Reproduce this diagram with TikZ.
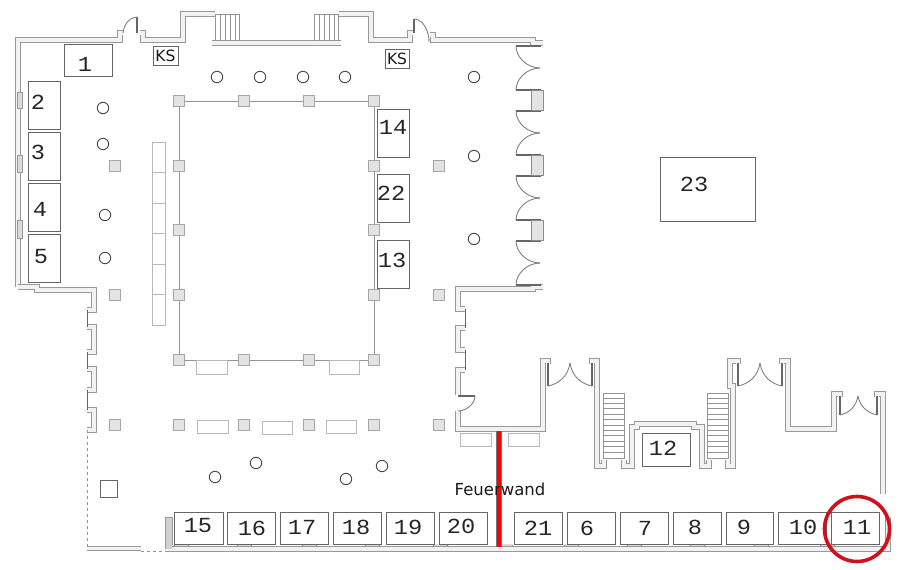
\documentclass[tikz,border=0pt]{standalone}
\usepackage{fontspec}
\setsansfont{DejaVu Sans}
\newfontfamily\numfont[FakeStretch=1.1]{Liberation Mono}
\definecolor{wallgray}{gray}{0.6}
\definecolor{wallfill}{gray}{0.95}
\definecolor{pillargray}{gray}{0.89}
\definecolor{circlered}{RGB}{208,16,28}
\tikzset{
	wall/.style={draw=wallgray,line width=1.1pt,double=wallfill,double distance=3.4pt,miter limit=4},
	leaf/.style={draw=black!60,line width=1.5pt},
	thinline/.style={draw=black!42,line width=1pt},
	swing/.style={draw=black!50,line width=0.9pt},
	booth/.style={draw=black!60,line width=1pt},
	table/.style={draw=black!28,line width=1pt},
	pillar/.style={draw=black!35,fill=pillargray,line width=0.9pt},
	column/.style={draw=black!72,line width=0.9pt},
	num/.style={font=\numfont\fontsize{21.5}{21.5}\selectfont,text=black!85,inner sep=0pt},
	ks/.style={font=\sffamily\fontsize{15.5}{16}\selectfont,text=black!90,inner sep=0pt},
}
\begin{document}
\begin{tikzpicture}[x=1pt,y=-1pt]
	\useasboundingbox (0,0) rectangle (900,570);

	\draw [wall] (18,287)--(18,40)--(120,40)--(120,33)--(123,33);
	\draw [wall] (140,33)--(143,33)--(143,40)--(183,40)--(183,14)--(215,14);
	\draw [wall] (212,43)--(341,43);
	\draw [wall] (339,14)--(371,14)--(371,40)--(410,40)--(410,33)--(413,33);
	\draw [wall] (430,35)--(433,35)--(433,40)--(533,40)--(533,43)--(543,43);
	\draw [wall] (18,287)--(37,287)--(37,290)--(94,290)--(94,310)--(87,310);
	\draw [wall] (87,327)--(94,327)--(94,352)--(87,352);
	\draw [wall] (87,369)--(94,369)--(94,390)--(87,390);
	\draw [wall] (87,410)--(94,410)--(94,430)--(87,430);
	\draw [wall] (543,287)--(533,287)--(533,289)--(458,289)--(458,309)--(465,309);
	\draw [wall] (465,328)--(458,328)--(458,350)--(465,350);
	\draw [wall] (465,370)--(458,370)--(458,395);
	\draw [wall] (458,411)--(458,429)--(543,429)--(543,361)--(548,361)--(548,364);
	\draw [wall] (592,364)--(592,361)--(597,361)--(597,466)--(604,466)--(604,460);
	\draw [wall] (624,460)--(624,466)--(632,466)--(632,427)--(637,427)--(637,424)--(694,424)--(694,427)--(702,427)--(702,466)--(709,466)--(709,460);
	\draw [wall] (728,460)--(728,466)--(733,466)--(733,386)--(730,386)--(730,361)--(738,361)--(738,364);
	\draw [wall] (782,364)--(782,361)--(788,361)--(788,429)--(834,429)--(834,394)--(840,394)--(840,397);
	\draw [wall] (877,397)--(877,394)--(883,394)--(883,494);
	\draw [wall] (165,549)--(888,549)--(888,517);
	\draw [wall] (87,548.5)--(141,548.5);

	\fill [wallgray!45] (165,517) rectangle (172,549);
	\draw [draw=wallgray,line width=0.9pt] (165,549)--(165,517)--(172,517)--(172,545);
	\foreach \ya/\yb in {92/108,155/172,220/238}{
		\draw [draw=wallgray,fill=wallfill!90!black,line width=0.8pt] (17.5,\ya) rectangle (22.5,\yb);
	}
	\foreach \bump in {173,236,301,364,432,497,563,626,689,753,819}{
		\draw [thinline,line width=0.8pt] (\bump,547)--(\bump+2,545)--(\bump+15,545)--(\bump+17,547);
	}

	\draw [thinline,dashed] (87,430)--(87,548);
	\draw [thinline,dashed] (141,551)--(165,551);

	\foreach \xw/\ya/\yb in {87/310/327,87/352/369,87/390/410,465/309/328,465/350/370}{
		\draw [leaf,line width=0.8pt] (\xw,\ya)--(\xw,\yb);
	}

	\draw [leaf] (137,17)--(137,33);
	\draw [swing] (123,33) .. controls (124,24) and (130,17) .. (137,17);
	\draw [leaf] (414,19)--(414,33);
	\draw [swing] (414,19) .. controls (422,19) and (429,29) .. (429,42);
	\draw [leaf] (458,396)--(475,396);
	\draw [swing] (475,396) .. controls (475,404) and (466,411) .. (458,411);
	\draw [leaf] (548,363)--(548,386);
	\draw [leaf] (592,363)--(592,386);
	\draw [swing] (548,386) .. controls (558,384) and (568,377) .. (570,363);
	\draw [swing] (592,386) .. controls (582,384) and (572,377) .. (570,363);
	\draw [leaf] (738,363)--(738,386);
	\draw [leaf] (782,363)--(782,386);
	\draw [swing] (738,386) .. controls (748,384) and (758,377) .. (760,363);
	\draw [swing] (782,386) .. controls (772,384) and (762,377) .. (760,363);
	\draw [leaf] (840,396)--(840,415);
	\draw [leaf] (877,396)--(877,415);
	\draw [swing] (840,415) .. controls (849,413) and (856,407) .. (858,396);
	\draw [swing] (877,415) .. controls (868,413) and (860,407) .. (858,396);

	\foreach \yd in {46,111,176,241}{
		\draw [leaf] (516,\yd)--(541,\yd);
		\draw [swing] (516,\yd) .. controls (516,\yd+12) and (528,\yd+22) .. (540,\yd+22);
		\draw [swing] (540,\yd+22) .. controls (528,\yd+22) and (516,\yd+32) .. (516,\yd+44);
		\draw [leaf] (516,\yd+44)--(541,\yd+44);
	}
	\foreach \yp in {90,155,220}{
		\draw [draw=black!45,fill=pillargray,line width=0.9pt] (531,\yp) rectangle (543,\yp+20);
	}

	\foreach \xs in {220,225,...,235}{
		\draw [thinline,line width=0.7pt] (\xs,14)--(\xs,40);
	}
	\draw [thinline,line width=0.7pt] (215,14) rectangle (239,40);
	\foreach \xs in {319,324,...,334}{
		\draw [thinline,line width=0.7pt] (\xs,14)--(\xs,40);
	}
	\draw [thinline,line width=0.7pt] (314,14) rectangle (338,40);
	\foreach \xa/\xb in {603/624,707/728}{
		\draw [thinline,line width=0.7pt] (\xa,393) rectangle (\xb,458);
		\foreach \ys in {398,403.4,...,455}{
			\draw [thinline,line width=0.7pt] (\xa,\ys)--(\xb,\ys);
		}
	}

	\draw [thinline] (179,101) rectangle (374,360);
	\foreach \px/\py in {179/101,244/101,309/101,374/101,115/166,179/166,374/166,439/166,179/230,374/230,115/295,179/295,374/295,439/295,179/360,244/360,309/360,374/360,115/425,179/425,244/425,309/425,374/425,439/425}{
		\draw [pillar] (\px-5.5,\py-5.5) rectangle (\px+5.5,\py+5.5);
	}
	\foreach \cx/\cy in {217/77,260/77,303/77,345/77,474/77,103/108,103/144,105/215,105/258,474/156,474/239,215/477,256/463,346/479,382/466}{
		\draw [column] (\cx,\cy) circle (5.7);
	}

	\draw [table] (152,142) rectangle (165,325);
	\foreach \yt in {172,203,233,264,294}{
		\draw [table] (152,\yt)--(165,\yt);
	}
	\foreach \xa/\ya/\xb/\yb in {196/360/227/374,329/360/359/374,197/420/228/433,262/421/292/434,326/420/356/433,460/433/491/446,508/433/539/446}{
		\draw [table] (\xa,\ya) rectangle (\xb,\yb);
	}

	\foreach \nr/\xa/\ya/\xb/\yb/\tx/\ty in {
		1/64/44/112/76/85/64,
		2/28/81/60/129/38/102,
		3/28/132/60/180/38/152,
		4/28/183/60/231/40/209,
		5/28/234/60/282/41/257,
		14/377/109/409/157/393/127,
		22/377/174/409/222/391/193,
		13/377/240/409/288/392/260,
		23/660/157/755/221/694/184,
		12/642/433/690/466/663/448,
		15/174/512/223/544/198/526,
		16/227/512/275/544/252/528,
		17/280/512/328/544/302/527,
		18/333/512/381/544/356/527,
		19/386/512/434/544/408/527,
		20/439/512/487/544/461/526,
		21/514/512/562/544/538/528,
		6/567/512/615/544/587/528,
		7/620/512/668/544/645/528,
		8/673/512/721/544/695/527,
		9/726/512/773/544/744/527,
		10/778/512/826/544/803/527,
		11/831/512/879/544/857/527}{
		\draw [booth] (\xa,\ya) rectangle (\xb,\yb);
		\node [num] (booth\nr) at (\tx,\ty) {\nr};
	}
	\draw [booth] (153,46) rectangle (178,65);
	\node [ks] (ksleft) at (165.5,55.5) {KS};
	\draw [booth] (385,49) rectangle (409,68);
	\node [ks] (ksright) at (397,58.5) {KS};
	\draw [booth] (100,480) rectangle (117,497);

	\draw [draw=black!55,line width=0.6pt,double=red,double distance=4pt] (499,431)--(499,547);
	\node [font=\sffamily\fontsize{16.5}{16.5}\selectfont,text=black!90,inner sep=0pt] (firewall) at (500,489) {Feuerwand};

	\draw [draw=circlered,line width=3.6pt] (857,529) circle (32.5);
\end{tikzpicture}
\end{document}
